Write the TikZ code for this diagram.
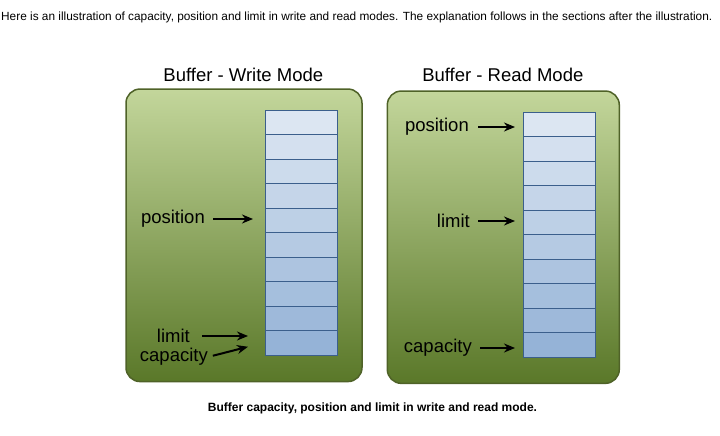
\documentclass[tikz,border=0pt]{standalone}
\usepackage{fontspec}
\usepackage{graphicx}
\setmainfont{Liberation Sans}
\usetikzlibrary{arrows.meta}

\definecolor{boxtop}{HTML}{C3D69B}
\definecolor{boxmid}{HTML}{84A73A}
\definecolor{boxbot}{HTML}{5A7829}
\definecolor{boxline}{HTML}{4F6228}
\definecolor{celltop}{HTML}{DCE6F2}
\definecolor{cellbot}{HTML}{95B3D7}
\definecolor{cellline}{HTML}{3B5F8C}

\tikzset{
  bufbox/.style={rectangle, rounded corners=14pt, draw=boxline, line width=1.5pt,
    top color=boxtop, middle color=boxmid, bottom color=boxbot},
  cell/.style={rectangle, draw=cellline, line width=0.9pt, minimum width=72pt,
    minimum height=24.5pt, inner sep=0pt, outer sep=0pt},
  lbl/.style={inner sep=0pt, anchor=east, font=\fontsize{18.5}{20}\selectfont},
  ttl/.style={inner sep=0pt, font=\fontsize{18.5}{20}\selectfont},
  arr/.style={-{Stealth[length=11pt,width=9pt]}, line width=2pt}
}

\begin{document}
\begin{tikzpicture}[x=1pt,y=-1pt]
\useasboundingbox (0,0) rectangle (720,436);

% text above and below
\node[anchor=west, inner sep=0pt] (intro) at (1,17) {\resizebox{711pt}{!}{Here is an illustration of capacity, position and limit in write and read modes. The explanation follows in the sections after the illustration.}};
\node[inner sep=0pt] (caption) at (372.5,408) {\resizebox{329pt}{!}{\bfseries Buffer capacity, position and limit in write and read mode.}};

% write mode
\node[ttl] (wtitle) at (243.3,75) {Buffer - Write Mode};
\node[bufbox, minimum width=236pt, minimum height=292.5pt] (wbox) at (244,235.3) {};
\foreach \i in {1,...,10} {
  \pgfmathtruncatemacro\p{(\i-1)*100/9}
  \node[cell, fill=cellbot!\p!celltop] (w\i) at (301,{97.75+24.5*\i}) {};
}
\node[lbl] (wpos) at (205,219) {position};
\node[lbl] (wlim) at (190,336) {limit};
\node[lbl] (wcap) at (208,357) {capacity};
\draw[arr, shorten <=8pt, shorten >=12pt] (wpos.east) -- (wpos.east -| w5.west);
\draw[arr, shorten <=12pt, shorten >=17pt] (wlim.east) -- (wlim.east -| w10.west);
\draw[arr, shorten <=5pt] (wcap.east) -- ([xshift=-17pt,yshift=-4pt]w10.west);

% read mode
\node[ttl] (rtitle) at (502.8,75) {Buffer - Read Mode};
\node[bufbox, minimum width=232pt, minimum height=292.3pt] (rbox) at (503.3,237.2) {};
\foreach \i in {1,...,10} {
  \pgfmathtruncatemacro\p{(\i-1)*100/9}
  \node[cell, fill=cellbot!\p!celltop] (r\i) at (559,{99.75+24.5*\i}) {};
}
\node[lbl] (rpos) at (469,127) {position};
\node[lbl] (rlim) at (470,221) {limit};
\node[lbl] (rcap) at (472,348) {capacity};
\draw[arr, shorten <=9pt, shorten >=8pt] (rpos.east) -- (rpos.east -| r1.west);
\draw[arr, shorten <=8pt, shorten >=8pt] (rlim.east) -- (rlim.east -| r5.west);
\draw[arr, shorten <=8pt, shorten >=8pt] (rcap.east) -- (rcap.east -| r10.west);
\end{tikzpicture}
\end{document}
